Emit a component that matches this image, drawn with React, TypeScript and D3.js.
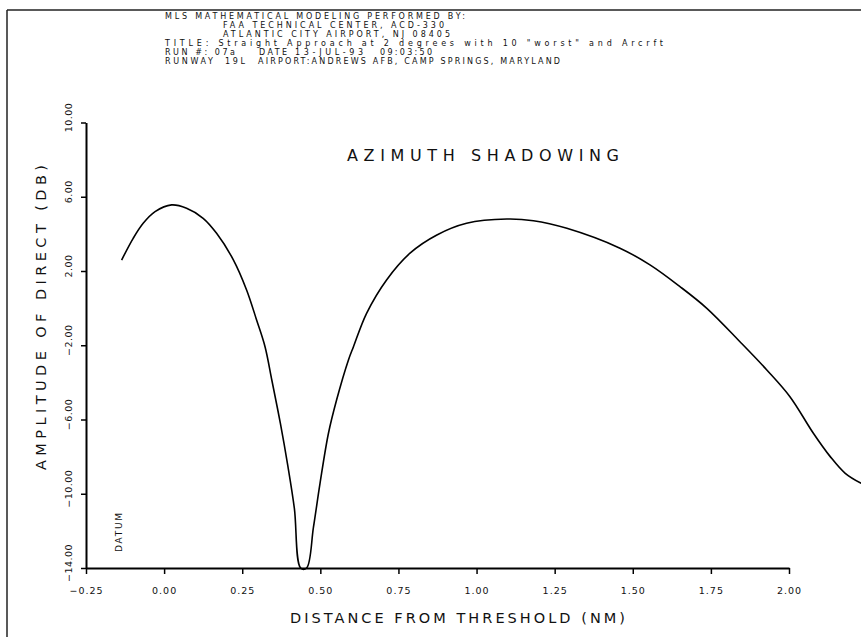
import React, { useEffect, useRef } from 'react';
import * as d3 from 'd3';

// distance from threshold (NM) and amplitude of direct (dB)
const distance = [
  -0.136, -0.099, -0.067, -0.029, 0.024, 0.072, 0.125, 0.168, 0.222, 0.264, 0.296, 0.323,
  0.345, 0.372, 0.396, 0.417, 0.437, 0.456, 0.478, 0.499, 0.526, 0.552, 0.59, 0.606, 0.648,
  0.712, 0.787, 0.873, 0.968, 1.097, 1.182, 1.289, 1.459, 1.555, 1.651, 1.737, 1.843, 1.929,
  2.003, 2.078, 2.132, 2.18, 2.231,
];
const amplitude = [
  2.59, 3.76, 4.57, 5.2, 5.56, 5.38, 4.84, 4.03, 2.59, 0.98, -0.64, -2.08,
  -3.9, -6.2, -8.5, -10.8, -14, -14, -11.8, -9.44, -6.74, -4.95, -2.79, -2.08, -0.28,
  1.52, 2.96, 3.94, 4.57, 4.8, 4.71, 4.3, 3.23, 2.33, 1.16, -0.01, -1.81, -3.33,
  -4.77, -6.74, -8.0, -8.9, -9.44,
];
const xTicks = [-0.25, 0, 0.25, 0.5, 0.75, 1.0, 1.25, 1.5, 1.75, 2.0];
const yTicks = [10, 6, 2, -2, -6, -10, -14];

const headerLines = [
  { text: 'MLS MATHEMATICAL MODELING PERFORMED BY:', x: 165, end: 465 },
  { text: 'FAA TECHNICAL CENTER, ACD-330', x: 223, end: 444 },
  { text: 'ATLANTIC CITY AIRPORT, NJ 08405', x: 223, end: 450 },
  { text: 'TITLE: Straight Approach at 2 degrees with 10 "worst" and Arcrft', x: 165, end: 663 },
];
const runLine = [
  { text: 'RUN #: 07a', x: 165, end: 235 },
  { text: 'DATE', x: 259, end: 287 },
  { text: '13-JUL-93', x: 295, end: 363 },
  { text: '09:03:50', x: 380, end: 432 },
];
const runwayLine = [
  { text: 'RUNWAY', x: 165, end: 213 },
  { text: '19L', x: 225, end: 245 },
  { text: 'AIRPORT:ANDREWS AFB, CAMP SPRINGS, MARYLAND', x: 258, end: 560 },
];

const W = 861;
const H = 637;
const font = '"DejaVu Sans", "Liberation Sans", sans-serif';

const App = () => {
  const svgRef = useRef(null);

  useEffect(() => {
    const svg = d3.select(svgRef.current);
    svg.selectAll('*').remove();

    const x = d3.scaleLinear().domain([-0.25, 2.0]).range([86, 789]);
    const y = d3.scaleLinear().domain([-14, 10]).range([568, 122.5]);

    // page border
    svg.append('line').attr('x1', 7).attr('x2', W).attr('y1', 10).attr('y2', 10)
      .attr('stroke', '#222').attr('stroke-width', 1.5);
    svg.append('line').attr('x1', 7).attr('x2', 7).attr('y1', 10).attr('y2', H)
      .attr('stroke', '#222').attr('stroke-width', 1.5);

    // header block
    const header = svg.append('g').attr('font-family', font).attr('font-size', 8).attr('fill', '#111');
    headerLines.forEach((l, i) => {
      header.append('text').attr('x', l.x).attr('y', 18.5 + i * 9)
        .attr('textLength', l.end - l.x).attr('lengthAdjust', 'spacing').text(l.text);
    });
    [runLine, runwayLine].forEach((segs, j) => {
      segs.forEach((s) => {
        header.append('text').attr('x', s.x).attr('y', 18.5 + (4 + j) * 9)
          .attr('textLength', s.end - s.x).attr('lengthAdjust', 'spacing').text(s.text);
      });
    });

    // title
    svg.append('text').attr('x', 347).attr('y', 161).attr('font-family', font)
      .attr('font-size', 16).attr('textLength', 272).attr('lengthAdjust', 'spacing')
      .attr('fill', '#111').text('AZIMUTH SHADOWING');

    // x axis
    const xAxis = d3.axisBottom(x).tickValues(xTicks).tickSizeInner(6).tickSizeOuter(0)
      .tickPadding(13).tickFormat(d3.format('.2f'));
    const gx = svg.append('g').attr('transform', `translate(0,${y(-14)})`).call(xAxis);
    gx.select('.domain').attr('stroke', '#000').attr('stroke-width', 2);
    gx.selectAll('.tick line').attr('stroke', '#000').attr('stroke-width', 1.5);
    gx.selectAll('text').attr('font-family', font).attr('font-size', 9.5)
      .attr('letter-spacing', 1).attr('fill', '#111');

    // y axis
    const yAxis = d3.axisLeft(y).tickValues(yTicks).tickSizeInner(5).tickSizeOuter(0).tickFormat(() => '');
    const gy = svg.append('g').attr('transform', `translate(${x(-0.25)},0)`).call(yAxis);
    gy.select('.domain').attr('stroke', '#000').attr('stroke-width', 2);
    gy.selectAll('.tick line').attr('stroke', '#000').attr('stroke-width', 1.5);
    yTicks.forEach((t) => {
      svg.append('text')
        .attr('transform', `translate(72,${y(t) - 5}) rotate(-90)`)
        .attr('text-anchor', 'middle').attr('font-family', font).attr('font-size', 9.5)
        .attr('letter-spacing', 0.5).attr('fill', '#111').text(d3.format('.2f')(t));
    });

    // axis titles
    svg.append('text').attr('x', 290).attr('y', 623).attr('font-family', font)
      .attr('font-size', 14.5).attr('textLength', 335).attr('lengthAdjust', 'spacing')
      .attr('fill', '#111').text('DISTANCE FROM THRESHOLD (NM)');
    svg.append('text').attr('transform', 'translate(46,470) rotate(-90)')
      .attr('font-family', font).attr('font-size', 14.5).attr('textLength', 305)
      .attr('lengthAdjust', 'spacing').attr('fill', '#111').text('AMPLITUDE OF DIRECT (DB)');

    // datum marker
    svg.append('text').attr('transform', 'translate(122,552) rotate(-90)')
      .attr('font-family', font).attr('font-size', 9).attr('textLength', 39)
      .attr('lengthAdjust', 'spacing').attr('fill', '#111').text('DATUM');

    // curve
    const pts = distance.map((d, i) => [d, amplitude[i]]);
    const line = d3.line()
      .x((d) => x(d[0]))
      .y((d) => Math.min(y(d[1]), y(-14)))
      .curve(d3.curveCatmullRom.alpha(0.5));
    svg.append('path').datum(pts).attr('d', line).attr('fill', 'none')
      .attr('stroke', '#000').attr('stroke-width', 1.6);
  }, []);

  return (
    <svg
      ref={svgRef}
      width={W}
      height={H}
      style={{ position: 'absolute', left: 0, top: 0, background: '#fff' }}
    ></svg>
  );
};

export default App;
